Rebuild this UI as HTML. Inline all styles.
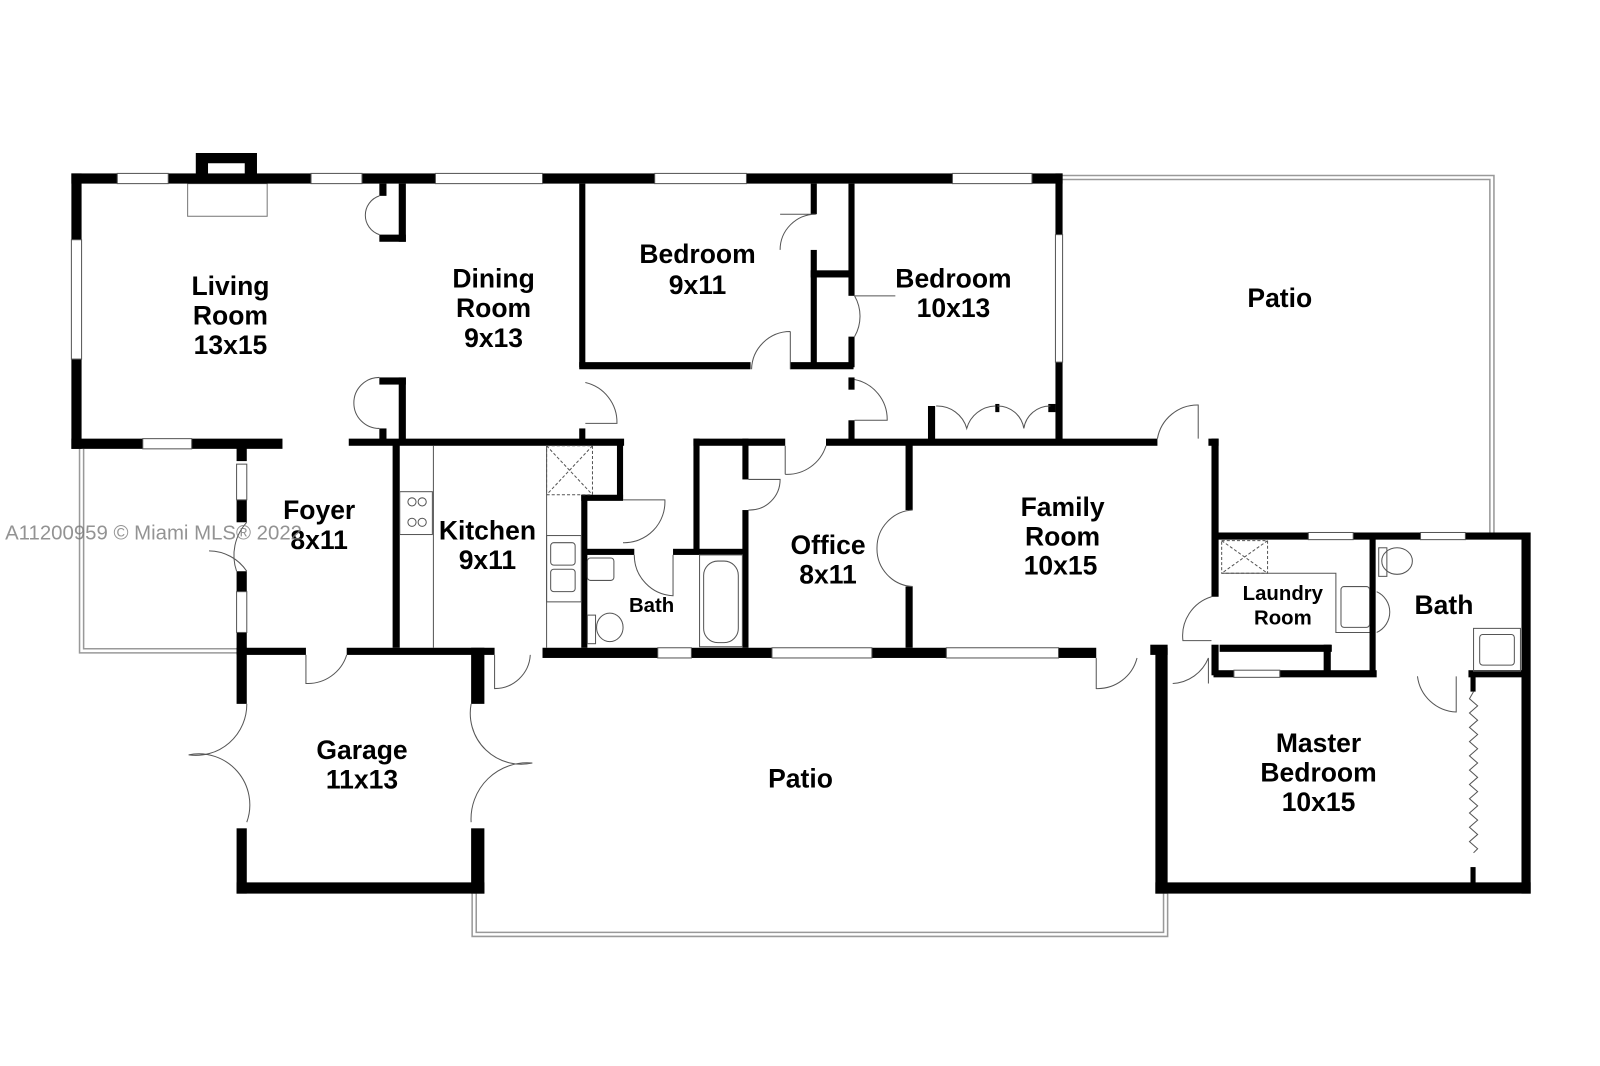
<!DOCTYPE html>
<html><head><meta charset="utf-8"><style>
html,body{margin:0;padding:0;background:#fff;}
svg{display:block;}
text{font-family:"Liberation Sans",Arial,sans-serif;font-weight:bold;fill:#000;text-anchor:middle;}
</style></head><body>
<svg width="1600" height="1066" viewBox="0 0 1569 1045" preserveAspectRatio="none" xmlns="http://www.w3.org/2000/svg">
<rect width="1569" height="1045" fill="#fff"/>
<g fill="none" stroke="#999" stroke-width="1.5">
<path d="M1040 172 H1465 V522"/>
<path d="M1040 176 H1461 V522"/>
<path d="M78 440 V640 H235"/>
<path d="M82 440 V636 H235"/>
<path d="M463 876 V918 H1145 V876"/>
<path d="M467 876 V914 H1141 V876"/>
</g>
<rect x="184" y="180" width="78" height="32" fill="none" stroke="#777" stroke-width="1"/>
<g fill="#000">
<rect x="70" y="170" width="972" height="10"/>
<path d="M192 150 H252 V172 H240 V160 H204 V172 H192 Z"/>
<rect x="70" y="170" width="10" height="270"/>
<rect x="70" y="430" width="207" height="10"/>
<rect x="342" y="430" width="270" height="7"/>
<rect x="372" y="180" width="7" height="12"/><rect x="372" y="230" width="26" height="7"/><rect x="391" y="180" width="7" height="57"/>
<rect x="372" y="370" width="26" height="7"/><rect x="391" y="370" width="7" height="62"/><rect x="372" y="420" width="7" height="12"/>
<rect x="568" y="180" width="6" height="180"/><rect x="568" y="420" width="6" height="12"/>
<rect x="568" y="355" width="168" height="7"/><rect x="775" y="355" width="62" height="7"/>
<rect x="795" y="180" width="6" height="30"/><rect x="795" y="245" width="6" height="115"/>
<rect x="795" y="265" width="40" height="7"/>
<rect x="832" y="180" width="6" height="110"/><rect x="832" y="330" width="6" height="30"/>
<rect x="832" y="370" width="6" height="12"/><rect x="832" y="412" width="6" height="22"/>
<rect x="1035" y="170" width="7" height="60"/><rect x="1035" y="355" width="7" height="80"/>
<rect x="910" y="398" width="7" height="35"/><rect x="1028" y="396" width="7" height="8"/><rect x="976" y="396" width="4" height="8"/>
<rect x="680" y="430" width="90" height="7"/><rect x="810" y="430" width="325" height="7"/><rect x="1185" y="430" width="10" height="7"/>
<rect x="1188" y="430" width="7" height="155"/>
<rect x="1190" y="522" width="93" height="7"/><rect x="1327" y="522" width="66" height="7"/><rect x="1437" y="522" width="63" height="7"/>
<rect x="1492" y="522" width="9" height="354"/>
<rect x="1343" y="528" width="6" height="135"/>
<rect x="1188" y="632" width="7" height="30"/>
<rect x="1190" y="657" width="20" height="7"/><rect x="1255" y="657" width="95" height="7"/>
<rect x="1196" y="632" width="110" height="7"/><rect x="1298" y="632" width="7" height="30"/>
<rect x="1440" y="657" width="60" height="7"/>
<rect x="1133" y="635" width="12" height="241"/>
<rect x="1133" y="865" width="368" height="11"/>
<rect x="1442" y="660" width="5" height="18"/><rect x="1442" y="850" width="5" height="16"/>
<rect x="532" y="635" width="113" height="10"/><rect x="678" y="635" width="79" height="10"/><rect x="855" y="635" width="73" height="10"/><rect x="1038" y="635" width="37" height="10"/>
<rect x="1128" y="632" width="17" height="10"/>
<rect x="232" y="635" width="68" height="7"/><rect x="340" y="635" width="145" height="7"/>
<rect x="232" y="635" width="10" height="55"/><rect x="232" y="812" width="10" height="64"/>
<rect x="232" y="865" width="243" height="11"/>
<rect x="462" y="635" width="13" height="55"/><rect x="462" y="812" width="13" height="64"/>
<rect x="232" y="432" width="10" height="20"/><rect x="232" y="490" width="10" height="22"/><rect x="232" y="560" width="10" height="20"/><rect x="232" y="620" width="10" height="20"/>
<rect x="385" y="432" width="7" height="203"/>
<rect x="605" y="432" width="6" height="58"/><rect x="570" y="485" width="41" height="6"/><rect x="570" y="485" width="6" height="150"/>
<rect x="575" y="538" width="47" height="6"/><rect x="660" y="538" width="74" height="6"/>
<rect x="680" y="430" width="6" height="112"/>
<rect x="728" y="430" width="6" height="40"/><rect x="728" y="500" width="6" height="135"/>
<rect x="888" y="432" width="7" height="68"/><rect x="888" y="575" width="7" height="60"/>
</g>
<g fill="#fff" stroke="#555" stroke-width="1">
<rect x="115" y="170" width="50" height="10"/><rect x="305" y="170" width="50" height="10"/><rect x="427" y="170" width="105" height="10"/>
<rect x="642" y="170" width="90" height="10"/><rect x="934" y="170" width="78" height="10"/>
<rect x="70" y="235" width="10" height="117"/><rect x="1035" y="230" width="7" height="125"/>
<rect x="140" y="430" width="48" height="10"/>
<rect x="232" y="455" width="10" height="35"/><rect x="232" y="580" width="10" height="40"/>
<rect x="645" y="635" width="33" height="10"/><rect x="757" y="635" width="98" height="10"/><rect x="928" y="635" width="110" height="10"/>
<rect x="1283" y="522" width="44" height="7"/><rect x="1393" y="522" width="44" height="7"/>
<rect x="1210" y="657" width="45" height="7"/>
</g>
<g fill="none" stroke="#555" stroke-width="1">
<path d="M800 210 A35 35 0 0 0 765 245 M800 210 H765"/>
<path d="M775 325 A38 38 0 0 0 737 362 M775 325 V362"/>
<path d="M838 290 A40 40 0 0 1 838 330 M838 290 H878"/>
<path d="M838 372 A40 40 0 0 1 870 412 H838"/>
<path d="M574 375 A40 40 0 0 1 605 415 H574"/>
<path d="M770 465 A40 40 0 0 0 810 437"/><path d="M770 437 V465"/>
<path d="M734 470 H765 A30 30 0 0 1 734 500"/>
<path d="M611 490 H652 A40 40 0 0 1 611 532"/>
<path d="M622 544 A40 40 0 0 0 660 584 V544"/>
<path d="M895 500 A37 37 0 0 0 860 537 A37 37 0 0 0 895 575"/>
<path d="M1135 430 A40 40 0 0 1 1175 397 V430"/>
<path d="M918 398 A30 30 0 0 1 948 420 A30 30 0 0 1 976 398"/>
<path d="M978 398 A26 26 0 0 1 1004 420 A26 26 0 0 1 1030 398"/>
<path d="M372 192 A20 20 0 0 0 372 230 M372 370 A20 20 0 0 0 372 420"/>
<path d="M242 512 A48 48 0 0 0 232 560"/><path d="M205 540 A45 45 0 0 1 242 560"/>
<path d="M300 642 V670 A40 40 0 0 0 340 642"/>
<path d="M485 642 V675 A35 35 0 0 0 520 642"/>
<path d="M242 690 A50 50 0 0 1 185 740 A50 50 0 0 1 242 806"/>
<path d="M462 690 A50 50 0 0 0 522 748 A55 55 0 0 0 462 806"/>
<path d="M1075 645 V675 A40 40 0 0 0 1115 645"/>
<path d="M1188 585 A40 40 0 0 0 1160 628 H1188"/>
<path d="M1150 670 A40 40 0 0 0 1185 645 V670"/>
<path d="M1390 663 A40 40 0 0 0 1428 698 V663"/>
<path d="M1445 678 l-4 7 l8 7 l-8 7 l8 7 l-8 7 l8 7 l-8 7 l8 7 l-8 7 l8 7 l-8 7 l8 7 l-8 7 l8 7 l-8 7 l8 7 l-8 7 l8 7 l-8 7 l8 7 l-8 7 l8 7 l-4 4"/>
<rect x="536" y="437" width="45" height="48" stroke-dasharray="3 2"/>
<path d="M536 437 L581 485 M581 437 L536 485" stroke-dasharray="3 2"/>
<path d="M425 437 V635 M536 437 V635"/>
<rect x="392" y="482" width="32" height="42"/>
<rect x="536" y="525" width="34" height="65"/>
<rect x="540" y="532" width="24" height="22" rx="3"/><rect x="540" y="558" width="24" height="22" rx="3"/>
<rect x="576" y="547" width="26" height="22" rx="3"/>
<ellipse cx="598" cy="615" rx="13" ry="14"/><rect x="576" y="603" width="8" height="28"/>
<rect x="686" y="544" width="42" height="90"/><rect x="690" y="550" width="34" height="80" rx="14"/>
<rect x="1198" y="530" width="45" height="32" stroke-dasharray="3 2"/>
<path d="M1198 530 L1243 562 M1243 530 L1198 562" stroke-dasharray="3 2"/>
<path d="M1198 562 H1310 V620 H1343"/>
<rect x="1315" y="575" width="28" height="40" rx="3"/>
<ellipse cx="1370" cy="550" rx="15" ry="13"/><rect x="1352" y="537" width="8" height="28"/>
<path d="M1350 580 A22 22 0 0 1 1350 620"/>
<rect x="1445" y="616" width="46" height="42"/><rect x="1451" y="622" width="34" height="30" rx="3"/>
<circle cx="404" cy="492" r="4"/><circle cx="414" cy="492" r="4"/><circle cx="404" cy="512" r="4"/><circle cx="414" cy="512" r="4"/>
</g>
<g font-size="26">
<text x="226" y="289">Living</text><text x="226" y="318">Room</text><text x="226" y="347">13x15</text>
<text x="484" y="282">Dining</text><text x="484" y="311">Room</text><text x="484" y="340">9x13</text>
<text x="684" y="258">Bedroom</text><text x="684" y="288">9x11</text>
<text x="935" y="282">Bedroom</text><text x="935" y="311">10x13</text>
<text x="1255" y="301">Patio</text>
<text x="313" y="509">Foyer</text><text x="313" y="538">8x11</text>
<text x="478" y="529">Kitchen</text><text x="478" y="558">9x11</text>
<text x="812" y="543">Office</text><text x="812" y="572">8x11</text>
<text x="1042" y="506">Family</text><text x="1042" y="535">Room</text><text x="1040" y="563">10x15</text>
<text x="1416" y="602">Bath</text>
<text x="355" y="744">Garage</text><text x="355" y="773">11x13</text>
<text x="785" y="772">Patio</text>
<text x="1293" y="737">Master</text><text x="1293" y="766">Bedroom</text><text x="1293" y="795">10x15</text>
</g>
<g font-size="20"><text x="1258" y="588">Laundry</text><text x="1258" y="612">Room</text><text x="639" y="600">Bath</text></g>
<text x="5" y="529" font-size="20" style="font-weight:normal;text-anchor:start;fill:rgba(120,120,120,0.8)">A11200959 © Miami MLS® 2022</text>
</svg>
</body></html>
